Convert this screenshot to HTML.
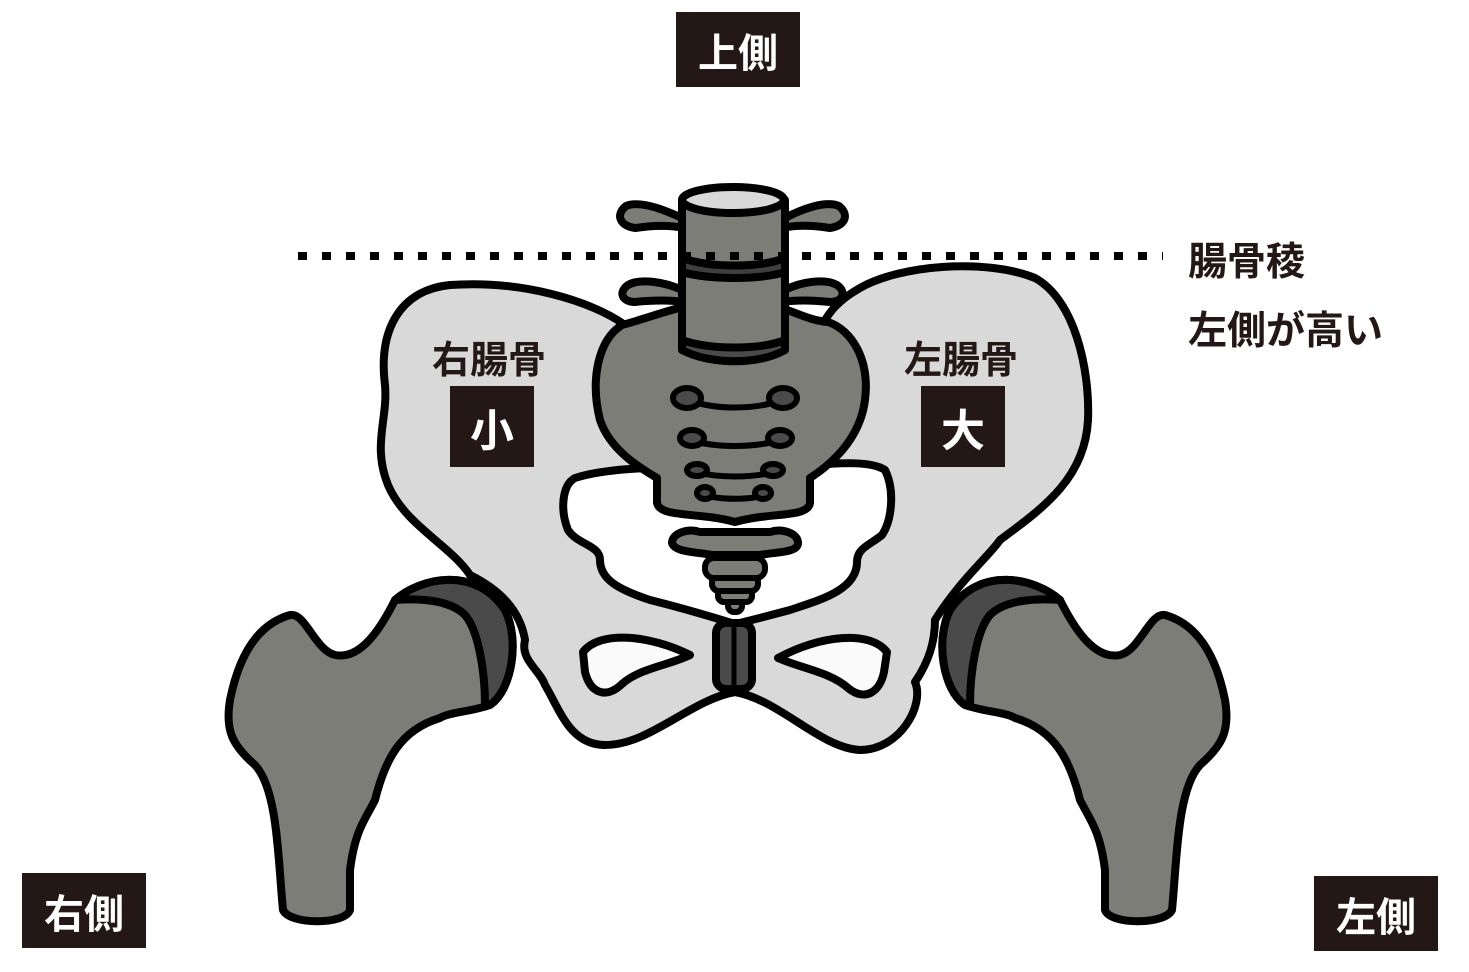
<!DOCTYPE html>
<html><head><meta charset="utf-8"><style>
html,body{margin:0;padding:0;background:#fff;}
body{width:1469px;height:972px;position:relative;overflow:hidden;font-family:"Liberation Sans","Noto Sans CJK JP",sans-serif;}
.box{position:absolute;background:#231815;color:#fff;font-weight:bold;display:flex;align-items:center;justify-content:center;}
.t{position:absolute;color:#231815;font-weight:bold;white-space:nowrap;}
</style></head><body>
<svg width="1469" height="972" style="position:absolute;left:0;top:0" stroke="#000" stroke-width="8" stroke-linejoin="round" stroke-linecap="round">
<g id="fem">
<path fill="#7d7d77" d="M 290,615 C 305,612 315,650 335,655 C 360,660 380,630 395,600 C 420,578 475,565 505,610 C 520,640 512,690 490,705 C 470,712 450,712 440,718 C 400,730 385,760 375,800 C 365,820 355,830 350,870 L 350,910 C 345,925 290,925 283,910 C 278,860 278,790 255,765 C 232,745 225,730 230,700 C 238,660 255,625 290,615 Z"/>
<path fill="#4a4a4a" d="M 395,600 C 420,578 475,565 505,610 C 520,640 512,690 490,705 L 485,705 C 485,670 478,630 465,615 C 450,600 420,598 395,600 Z"/>
</g>
<use href="#fem" transform="translate(1455,0) scale(-1,1)"/>
<path fill="#d9d9d9" d="M 625,325 C 590,300 520,280 450,285 C 400,290 378,330 385,385 C 388,420 372,445 388,485 C 405,525 450,545 470,575 C 500,590 520,610 525,640 C 520,660 540,670 545,685 C 560,710 570,745 605,745 C 650,745 690,700 735,692 C 780,700 820,748 860,750 C 900,750 925,705 915,682 C 930,660 935,640 935,620 C 960,580 990,555 1000,540 C 1040,510 1085,480 1088,420 C 1090,370 1075,300 1035,278 C 985,258 900,265 860,288 C 835,302 828,315 822,325 Z"/>
<path fill="#fff" d="M 575,478 C 600,470 650,465 700,470 L 780,470 C 830,462 870,460 885,470 C 895,490 892,520 882,535 C 870,545 857,548 857,562 C 857,590 820,600 790,610 C 760,618 745,622 735,624 C 722,620 690,610 650,600 C 620,590 600,580 600,560 C 600,545 578,545 568,530 C 560,510 562,485 575,478 Z"/>
<path fill="#fafafa" d="M 583,652 C 600,630 650,635 690,655 C 670,665 640,668 622,684 C 605,700 590,692 585,672 Z"/>
<path fill="#fafafa" d="M 887,652 C 870,630 820,635 778,658 C 800,668 830,672 848,688 C 865,702 880,692 884,672 Z"/>
<rect x="716" y="623" width="36" height="66" rx="10" fill="#4a4a4a"/>
<line x1="734" y1="626" x2="734" y2="686" stroke-width="5"/>
<!-- coccyx -->
<rect x="728" y="598" width="14" height="14" rx="6" fill="#7d7d77" stroke-width="6"/>
<rect x="718" y="588" width="34" height="14" rx="6" fill="#7d7d77" stroke-width="6"/>
<rect x="712" y="575" width="46" height="16" rx="7" fill="#7d7d77" stroke-width="6"/>
<rect x="705" y="558" width="60" height="20" rx="9" fill="#7d7d77" stroke-width="6"/>
<path fill="#7d7d77" d="M 700,532 C 688,528 672,533 672,543 C 675,553 700,552 712,555 L 760,555 C 775,552 798,553 798,543 C 798,533 782,528 770,532 Z"/>
<path fill="#7d7d77" d="M 622,325 C 598,340 590,380 600,420 C 610,450 640,468 657,478 L 657,503 C 660,518 700,512 735,522 C 770,512 808,518 810,503 L 810,478 C 830,465 860,440 865,400 C 870,360 852,330 828,322 C 800,320 780,300 735,300 C 690,300 660,315 622,325 Z"/>
<g stroke-width="6" fill="#4a4a4a">
<path fill="none" d="M 688,400 C 715,410 755,410 782,400"/>
<ellipse cx="687" cy="398" rx="14" ry="10"/><ellipse cx="783" cy="398" rx="14" ry="10"/>
<path fill="none" d="M 690,440 C 715,448 755,448 780,440"/>
<ellipse cx="692" cy="438" rx="12" ry="8"/><ellipse cx="780" cy="438" rx="12" ry="8"/>
<path fill="none" d="M 695,472 C 720,478 750,478 775,472"/>
<ellipse cx="697" cy="470" rx="10" ry="6"/><ellipse cx="773" cy="470" rx="10" ry="6"/>
<path fill="none" d="M 705,495 C 720,500 750,500 765,495"/>
<ellipse cx="705" cy="493" rx="8" ry="6"/><ellipse cx="763" cy="493" rx="8" ry="6"/>
</g>
<path fill="#7d7d77" d="M 682,290 C 665,282 640,278 628,285 C 618,292 622,302 635,302 C 655,300 670,300 684,302 Z"/>
<path fill="#7d7d77" d="M 785,290 C 800,282 825,278 837,285 C 847,292 843,302 830,302 C 810,300 795,300 783,302 Z"/>
<path fill="#4a4a4a" d="M 682,335 L 785,335 L 785,350 C 760,365 710,365 682,350 Z"/>
<path fill="#7d7d77" d="M 682,272 L 785,272 L 785,340 C 760,350 710,350 682,340 Z"/>
<path fill="#3f3f3f" d="M 682,255 L 785,255 L 785,272 C 760,280 710,280 682,272 Z"/>
<path fill="#7d7d77" d="M 682,218 C 665,210 640,200 626,206 C 615,215 620,226 635,228 C 655,225 670,225 684,228 Z"/>
<path fill="#7d7d77" d="M 785,218 C 800,210 825,200 839,206 C 850,215 845,226 830,228 C 810,225 795,225 783,228 Z"/>
<path fill="#7d7d77" d="M 682,200 L 785,200 L 785,258 C 760,268 710,268 682,258 Z"/>
<ellipse cx="733" cy="200" rx="51" ry="13" fill="#d9d9d9"/>
<line x1="298" y1="256" x2="1163" y2="256" stroke-width="8" stroke-dasharray="9,15" stroke-linecap="butt"/>
</svg>
<div class="box" style="left:676px;top:12px;width:124px;height:75px;font-size:40px;">上側</div>
<div class="box" style="left:22px;top:873px;width:124px;height:75px;font-size:40px;">右側</div>
<div class="box" style="left:1314px;top:876px;width:124px;height:75px;font-size:40px;">左側</div>
<div class="box" style="left:450px;top:386px;width:84px;height:81px;font-size:44px;">小</div>
<div class="box" style="left:921px;top:386px;width:84px;height:81px;font-size:44px;">大</div>
<div class="t" style="left:432px;top:329px;font-size:38px;">右腸骨</div>
<div class="t" style="left:904px;top:329px;font-size:38px;">左腸骨</div>
<div class="t" style="left:1188px;top:231px;font-size:39px;">腸骨稜</div>
<div class="t" style="left:1188px;top:300px;font-size:39px;">左側が高い</div>
</body></html>
